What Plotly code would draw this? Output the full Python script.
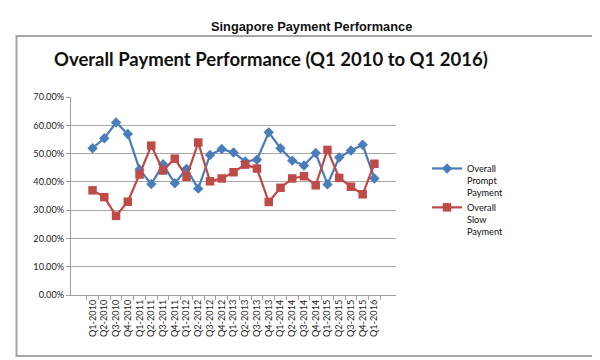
import plotly.graph_objects as go

quarters = [
    "Q1-2010", "Q2-2010", "Q3-2010", "Q4-2010",
    "Q1-2011", "Q2-2011", "Q3-2011", "Q4-2011",
    "Q1-2012", "Q2-2012", "Q3-2012", "Q4-2012",
    "Q1-2013", "Q2-2013", "Q3-2013", "Q4-2013",
    "Q1-2014", "Q2-2014", "Q3-2014", "Q4-2014",
    "Q1-2015", "Q2-2015", "Q3-2015", "Q4-2015",
    "Q1-2016",
]
prompt_payment = [
    0.519, 0.554, 0.610, 0.569,
    0.444, 0.392, 0.462, 0.395,
    0.446, 0.376, 0.495, 0.516,
    0.504, 0.472, 0.478, 0.575,
    0.519, 0.475, 0.458, 0.502,
    0.391, 0.486, 0.511, 0.531,
    0.412,
]
slow_payment = [
    0.370, 0.346, 0.280, 0.330,
    0.426, 0.528, 0.440, 0.482,
    0.418, 0.539, 0.402, 0.412,
    0.434, 0.461, 0.447, 0.329,
    0.379, 0.412, 0.420, 0.388,
    0.513, 0.414, 0.383, 0.356,
    0.464,
]
y_ticks = [0.0, 0.1, 0.2, 0.3, 0.4, 0.5, 0.6, 0.7]

W, H = 600, 360
PL, PR, PT, PB = 63, 388, 89, 287  # plot area in pixels


def px_x(x):
    return (x - PL) / (PR - PL)


def px_y(y):
    return (PB - y) / (PB - PT)


FONT = "Lato, 'Open Sans', sans-serif"
TICK_FONT = dict(family=FONT, size=9.2, color="#222222")

fig = go.Figure()
fig.add_trace(go.Scatter(
    x=quarters, y=prompt_payment, mode="lines+markers",
    name="Overall<br>Prompt<br>Payment",
    line=dict(color="#4A7EBB", width=2.25),
    marker=dict(symbol="diamond", size=8, color="#4A7EBB"),
))
fig.add_trace(go.Scatter(
    x=quarters, y=slow_payment, mode="lines+markers",
    name="Overall<br>Slow<br>Payment",
    line=dict(color="#BE4B48", width=2.25),
    marker=dict(symbol="square", size=8.5, color="#BE4B48"),
))

fig.update_layout(
    width=W, height=H,
    margin=dict(l=PL, r=W - PR, t=PT, b=H - PB, pad=0),
    paper_bgcolor="white", plot_bgcolor="white",
    font=dict(family=FONT, size=9.2, color="#222222"),
    showlegend=True,
    legend=dict(
        x=px_x(419), y=px_y(148), xanchor="left", yanchor="top",
        valign="top", tracegroupgap=0,
        font=dict(family=FONT, size=9.2, color="#111111"),
        bgcolor="rgba(0,0,0,0)",
    ),
    xaxis=dict(
        type="category", tickangle=-90, showgrid=False,
        showline=True, linecolor="#a0a0a0", linewidth=1,
        ticks="outside", tickson="boundaries", ticklen=4, tickcolor="#a0a0a0",
        tickfont=TICK_FONT,
        fixedrange=True,
    ),
    yaxis=dict(
        range=[0, 0.7], tickvals=y_ticks, tickformat=".2%",
        showgrid=True, gridcolor="#a8a8a8", gridwidth=1,
        showline=True, linecolor="#a0a0a0", linewidth=1,
        ticks="outside", ticklen=4, tickcolor="#a0a0a0",
        zeroline=False,
        tickfont=TICK_FONT,
        fixedrange=True,
    ),
    shapes=[dict(
        type="rect", xref="paper", yref="paper",
        x0=px_x(8.5), x1=px_x(590.5), y0=px_y(348), y1=px_y(28),
        line=dict(color="#a5a5a5", width=2), fillcolor="rgba(0,0,0,0)",
        layer="below",
    )],
    annotations=[
        dict(
            text="<b>Singapore Payment Performance</b>",
            xref="paper", yref="paper", x=px_x(303), y=px_y(19),
            xanchor="center", yanchor="middle", showarrow=False,
            font=dict(family="Liberation Sans, Arial, sans-serif", size=12.8, color="#111111"),
        ),
        dict(
            text="<b>Overall Payment Performance (Q1 2010 to Q1 2016)</b>",
            xref="paper", yref="paper", x=px_x(44), y=px_y(51),
            xanchor="left", yanchor="middle", showarrow=False,
            font=dict(family=FONT, size=18.5, color="#111111"),
        ),
    ],
)

fig.write_html("out.html")
